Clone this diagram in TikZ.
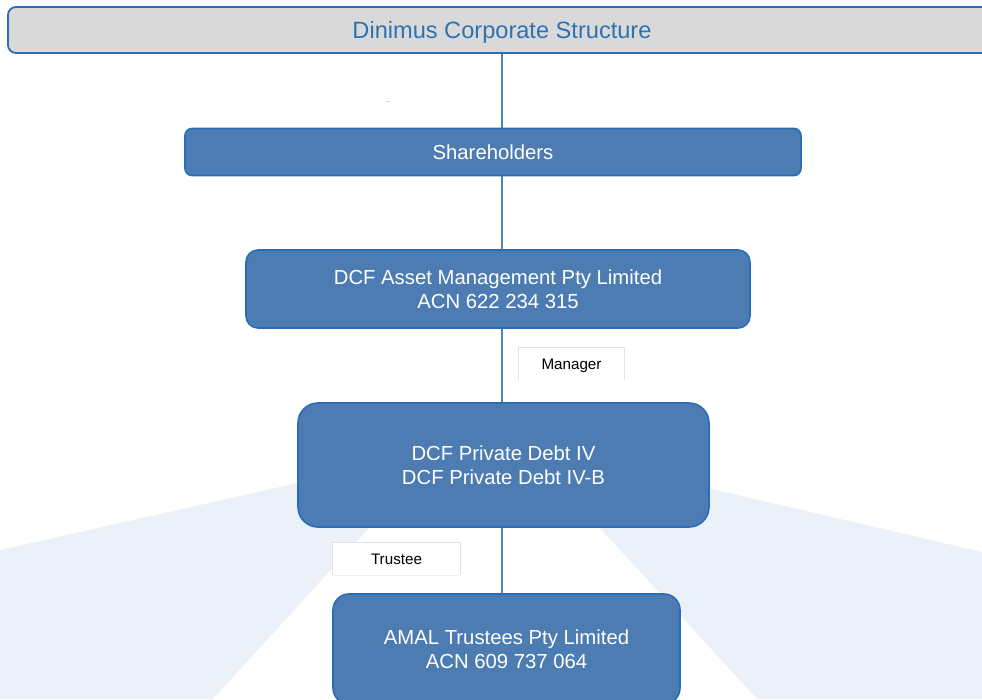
\documentclass[tikz,border=0pt]{standalone}
\usepackage{fontspec}
\setmainfont{Liberation Sans}
\usetikzlibrary{backgrounds}
\definecolor{boxfill}{RGB}{76,124,178}
\definecolor{boxedge}{RGB}{40,110,182}
\definecolor{titlefill}{RGB}{217,217,217}
\definecolor{titletext}{RGB}{46,114,180}
\definecolor{linkblue}{RGB}{84,130,190}
\definecolor{fanblue}{RGB}{236,241,249}
\definecolor{tagedge}{RGB}{226,226,226}
\begin{document}
\begin{tikzpicture}[x=1pt,y=-1pt,
  unitbox/.style={draw=boxedge, line width=1.6pt, fill=boxfill, text=white,
    align=center, inner sep=0pt, font=\fontsize{20.3}{24}\selectfont},
  titlebar/.style={draw=boxedge, line width=1.8pt, fill=titlefill, text=titletext,
    inner sep=0pt, rounded corners=8pt, minimum width=988pt, minimum height=46pt,
    text depth=0pt, font=\fontsize{23.6}{28}\selectfont},
  tagbox/.style={fill=white, inner sep=0pt, text=black, text depth=0pt,
    font=\fontsize{15.2}{18}\selectfont},
  tagline/.style={draw=tagedge, line width=0.8pt},
  link/.style={draw=linkblue, line width=1.2pt}]
\useasboundingbox (0,0) rectangle (982,699);

% heading bar
\node[titlebar] (title) at (502,30) {Dinimus Corporate Structure};

% entities
\node[unitbox, rounded corners=7pt, minimum width=616pt, minimum height=47pt]
  (share) at (493,152) {Shareholders};
\node[unitbox, rounded corners=12pt, minimum width=504pt, minimum height=78pt]
  (asset) at (498,289) {DCF Asset Management Pty Limited\\ACN 622 234 315};
\node[unitbox, rounded corners=20pt, minimum width=411pt, minimum height=124pt]
  (fund) at (503.5,465) {DCF Private Debt IV\\DCF Private Debt IV-B};
\node[unitbox, rounded corners=16pt, minimum width=347pt, minimum height=110pt]
  (amal) at (506.5,649) {AMAL Trustees Pty Limited\\ACN 609 737 064};

% role tags
\node[tagbox, minimum width=105pt, minimum height=32pt] (mgr) at (571.5,364) {Manager};
\draw[tagline] (mgr.south west) -- (mgr.north west) -- (mgr.north east) -- (mgr.south east);
\node[tagbox, minimum width=127pt, minimum height=32pt] (trustee) at (396.5,559) {Trustee};
\draw[tagline] (trustee.south west) -- (trustee.north west) -- (trustee.north east) -- (trustee.south east);
\draw[tagline, draw=tagedge!50] (trustee.south west) -- (trustee.south east);

\begin{pgfonlayer}{background}
  % light fan behind the lower part
  \fill[fanblue] (400,460) -- (0,550) -- (0,699) -- (213,699) -- (370,527) -- (399,495) -- cycle;
  \fill[fanblue] (600,463) -- (982,552) -- (982,699) -- (757,699) -- (600,528) -- (591,518) -- cycle;
  % vertical spine
  \draw[link] (title.south) -- (title.south |- amal.north);
  % stray mark
  \draw[draw=linkblue!30, line width=0.8pt] (386,101) -- (390,101);
\end{pgfonlayer}
\end{tikzpicture}
\end{document}
